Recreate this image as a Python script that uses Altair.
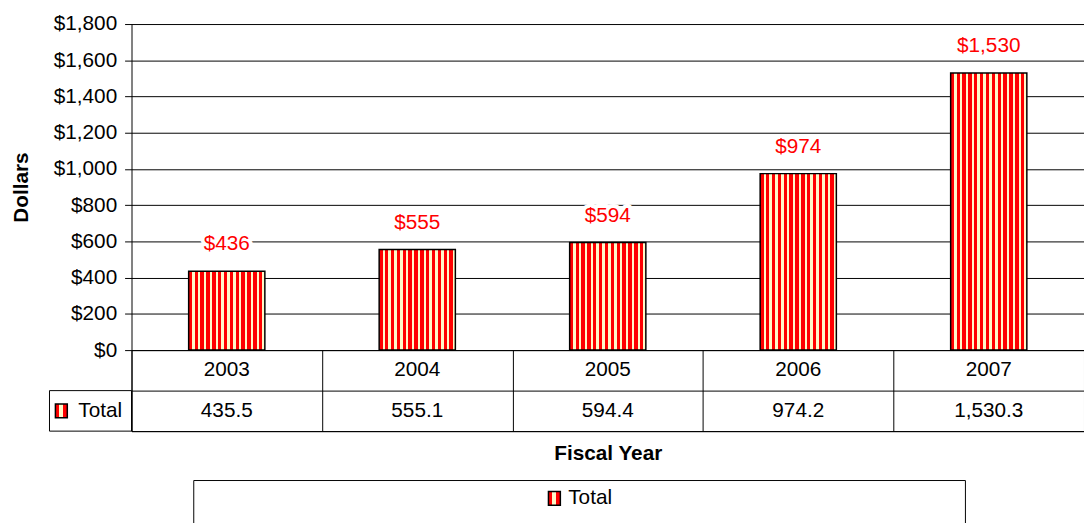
import altair as alt
import pandas as pd

years = ["2003", "2004", "2005", "2006", "2007"]
totals = [435.5, 555.1, 594.4, 974.2, 1530.3]
bar_labels = ["$436", "$555", "$594", "$974", "$1,530"]
table_values = ["435.5", "555.1", "594.4", "974.2", "1,530.3"]
y_ticks = [0, 200, 400, 600, 800, 1000, 1200, 1400, 1600, 1800]
series_name = "Total"
row_names = ["year", "Total"]

FONT = "Liberation Sans"
FS = 21
RED = "#FF0000"
CREAM = "#FFF8C8"
W = 964
SWATCH = "M-0.86,-1H0.86V1H-0.86Z"


def stripes(n, red_share=0.58):
    stops = []
    for i in range(n):
        a, m, b = i / n, (i + red_share) / n, (i + 1) / n
        stops += [
            alt.GradientStop(offset=a, color=RED),
            alt.GradientStop(offset=m, color=RED),
            alt.GradientStop(offset=m, color=CREAM),
            alt.GradientStop(offset=b, color=CREAM),
        ]
    return alt.LinearGradient(gradient="linear", stops=stops, x1=0, x2=1, y1=0, y2=0)


def swatch_fill():
    stops = [
        alt.GradientStop(offset=0, color=RED),
        alt.GradientStop(offset=0.33, color=RED),
        alt.GradientStop(offset=0.33, color=CREAM),
        alt.GradientStop(offset=0.67, color=CREAM),
        alt.GradientStop(offset=0.67, color=RED),
        alt.GradientStop(offset=1, color=RED),
    ]
    return alt.LinearGradient(gradient="linear", stops=stops, x1=0, x2=1, y1=0, y2=0)


bars_df = pd.DataFrame({"year": years, "total": totals, "label": bar_labels})

xs = alt.X("year:N", sort=years,
           scale=alt.Scale(paddingInner=0.6, paddingOuter=0.3), axis=None)
ys = alt.Y("total:Q", scale=alt.Scale(domain=[0, 1800], nice=False),
           axis=alt.Axis(values=y_ticks, format="$,d", title="Dollars",
                         labelOverlap=False,
                         labelFont=FONT, labelFontSize=FS, labelColor="black",
                         tickColor="black", tickSize=7, labelPadding=8,
                         domainColor="black", gridColor="black", gridOpacity=1,
                         titleFont=FONT, titleFontSize=FS, titleFontWeight="bold",
                         titleColor="black", titlePadding=22))

base = alt.Chart(bars_df)
bars = base.mark_bar(fill=stripes(13), stroke="black", strokeWidth=1.5).encode(
    x=xs, y=ys)
halo = base.mark_text(font=FONT, fontSize=FS, dy=-27, color="white",
                      stroke="white", strokeWidth=8, strokeJoin="round").encode(
    x=xs, y=ys, text="label:N")
labels = base.mark_text(font=FONT, fontSize=FS, dy=-27, color=RED).encode(
    x=xs, y=ys, text="label:N")

main = alt.layer(bars, halo, labels).properties(width=W, height=330)

# data table
rows = []
for yv, tv in zip(years, table_values):
    rows.append({"year": yv, "row": "year", "text": yv})
    rows.append({"year": yv, "row": "Total", "text": tv})
table_df = pd.DataFrame(rows)

tx = alt.X("year:N", sort=years, scale=alt.Scale(paddingInner=0, paddingOuter=0),
           axis=alt.Axis(labels=False, ticks=False, domain=True, domainColor="black",
                         grid=True, tickBand="extent", gridColor="black", gridOpacity=1,
                         title="Fiscal Year", titleFont=FONT, titleFontSize=FS,
                         titleFontWeight="bold", titleColor="black", titlePadding=12))
ty = alt.Y("row:N", sort=row_names, scale=alt.Scale(paddingInner=0, paddingOuter=0),
           axis=alt.Axis(labelExpr="datum.value == 'Total' ? 'Total' : ''",
                         labelFont=FONT, labelFontSize=FS, labelColor="black",
                         labelPadding=10, ticks=False, domain=True, domainColor="black",
                         grid=True, tickBand="extent", gridColor="black", gridOpacity=1,
                         title=None))

tbl = alt.Chart(table_df)
tbl_text = tbl.mark_text(font=FONT, fontSize=FS, color="black").encode(
    x=tx, y=ty, text="text:N")

key_df = pd.DataFrame({"row": [series_name]})
key_cell = alt.Chart(key_df).mark_rect(fill=None, stroke="black", strokeWidth=1).encode(
    y=alt.Y("row:N", sort=row_names), x=alt.value(-83), x2=alt.value(0))
key_swatch = alt.Chart(key_df).mark_point(
    shape=SWATCH, size=196, filled=True, opacity=1,
    fill=swatch_fill(), stroke="black", strokeWidth=1.5).encode(
    y=alt.Y("row:N", sort=row_names), x=alt.value(-71))

table = alt.layer(tbl_text, key_cell, key_swatch).properties(width=W, height=82)

# bottom legend
leg_df = pd.DataFrame({"series": [series_name]})
leg_box = alt.Chart(leg_df).mark_rect(fill=None, stroke="black", strokeWidth=1).encode(
    x=alt.value(63), x2=alt.value(844), y=alt.value(50), y2=alt.value(110))
leg_swatch = alt.Chart(leg_df).mark_point(
    shape=SWATCH, size=196, filled=True, opacity=1,
    fill=swatch_fill(), stroke="black", strokeWidth=1.5).encode(
    x=alt.value(428), y=alt.value(68))
leg_text = alt.Chart(leg_df).mark_text(font=FONT, fontSize=FS, align="left",
                                       color="black").encode(
    x=alt.value(442), y=alt.value(68), text="series:N")
legend = alt.layer(leg_box, leg_swatch, leg_text).properties(width=W, height=40)

chart = alt.vconcat(main, table, legend, spacing=0, bounds="flush").resolve_scale(
    x="independent", y="independent"
).properties(
    padding={"left": 2, "top": 2, "right": 0, "bottom": 0}, background="white"
).configure_view(stroke=None, strokeWidth=0)

chart.save("out.html", embed_options={"renderer": "svg", "actions": False})
